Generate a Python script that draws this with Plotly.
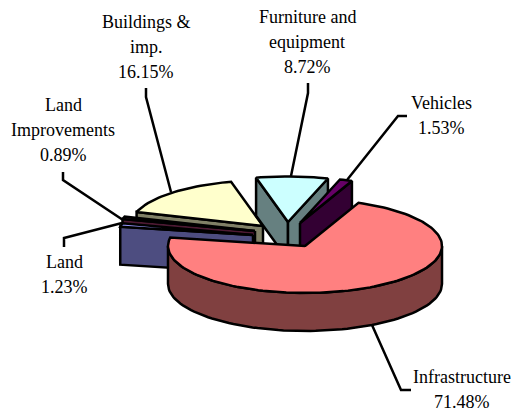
import math
import plotly.graph_objects as go

# Data
categories = ["Infrastructure", "Land", "Land Improvements", "Buildings & imp.", "Furniture and equipment", "Vehicles"]
values = [71.48, 1.23, 0.89, 16.15, 8.72, 1.53]
label_lines = [["Infrastructure", "71.48%"], ["Land", "1.23%"], ["Land", "Improvements", "0.89%"],
               ["Buildings &", "imp.", "16.15%"], ["Furniture and", "equipment", "8.72%"], ["Vehicles", "1.53%"]]

# Style / layout
top_colors = ["#FF8080", "#9999FF", "#993366", "#FFFFCC", "#CCFFFF", "#660066"]
wall_colors = ["#804040", "#4D4D80", "#4D1A33", "#808066", "#668080", "#330033"]
explode = [(0, 0), (-52, -11), (-50, -15), (-42, -20), (-17, -24), (-5, -23)]
radius_scale = [1, .985, 1.0, .97, .97, .97]
label_pos = [(462, 377), (64, 262), (63, 105), (146, 22), (307, 17), (441, 103)]
leaders = [[(372, 325), (401, 390), (411, 390)], [(122, 223), (64, 238), (64, 247)], [(123, 220), (63, 180), (63, 172)],
           [(171, 192), (146, 97), (146, 88)], [(291, 176), (308, 93), (308, 83)], [(347, 180), (398, 116), (407, 116)]]
CX, CY, RX, RY, DEPTH, START = 305, 246, 137, 47, 38, 23.0
LINE_H = 25
LINE_W = 2.5
FONT = "Liberation Serif, Times New Roman, serif"
FONT_SIZE = 18


def pt(a, cx, cy, s):
    r = math.radians(a)
    return cx + RX * s * math.sin(r), cy - RY * s * math.cos(r)


def poly(fig, pts, color):
    xs = [p[0] for p in pts] + [pts[0][0]]
    ys = [p[1] for p in pts] + [pts[0][1]]
    fig.add_trace(go.Scatter(x=xs, y=ys, mode="lines", fill="toself", fillcolor=color,
                             line=dict(color="black", width=LINE_W), hoverinfo="skip", showlegend=False))


fig = go.Figure()
spans = []
a = START
total = sum(values)
for v in values:
    spans.append((a, a + v / total * 360))
    a = spans[-1][1]

for i in [3, 2, 1, 4, 5, 0]:
    a0, a1 = spans[i]
    cx, cy = CX + explode[i][0], CY + explode[i][1]
    s = radius_scale[i]
    if math.cos(math.radians(a0 - 90)) < 0:
        p = pt(a0, cx, cy, s)
        poly(fig, [(cx, cy), p, (p[0], p[1] + DEPTH), (cx, cy + DEPTH)], wall_colors[i])
    if math.cos(math.radians(a1 + 90)) < 0:
        p = pt(a1, cx, cy, s)
        poly(fig, [(cx, cy), p, (p[0], p[1] + DEPTH), (cx, cy + DEPTH)], wall_colors[i])
    lo, hi = max(a0, 90), min(a1, 270)
    if hi > lo:
        n = 80
        arc = [pt(lo + (hi - lo) * k / n, cx, cy, s) for k in range(n + 1)]
        poly(fig, arc + [(x, y + DEPTH) for x, y in reversed(arc)], wall_colors[i])
    n = max(4, int((a1 - a0) / 2))
    poly(fig, [(cx, cy)] + [pt(a0 + (a1 - a0) * k / n, cx, cy, s) for k in range(n + 1)], top_colors[i])

for path in leaders:
    fig.add_trace(go.Scatter(x=[p[0] for p in path], y=[p[1] for p in path], mode="lines",
                             line=dict(color="black", width=LINE_W), hoverinfo="skip", showlegend=False))

for lines, (lx, ly) in zip(label_lines, label_pos):
    for k, t in enumerate(lines):
        fig.add_annotation(x=lx, y=ly + k * LINE_H, text=t, showarrow=False, xanchor="center", yanchor="middle",
                           font=dict(family=FONT, size=FONT_SIZE, color="black"))

fig.update_layout(width=512, height=412, margin=dict(l=0, r=0, t=0, b=0), paper_bgcolor="white", plot_bgcolor="white",
                  showlegend=False,
                  xaxis=dict(range=[0, 512], visible=False, fixedrange=True),
                  yaxis=dict(range=[412, 0], visible=False, fixedrange=True))
fig.write_html("out.html", config={"displayModeBar": False},
               post_script="document.body.style.margin='0';document.documentElement.style.overflow='hidden';")
